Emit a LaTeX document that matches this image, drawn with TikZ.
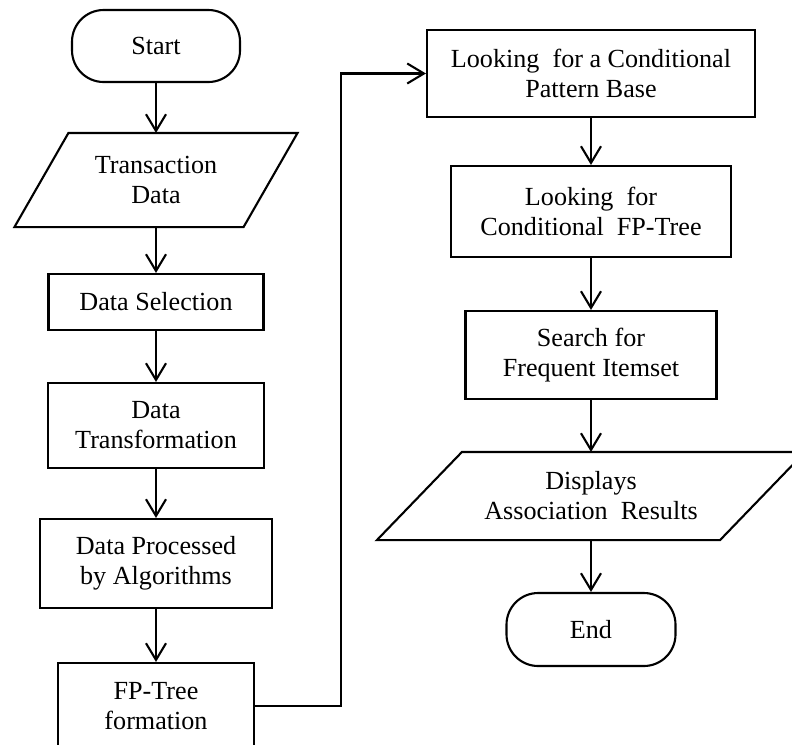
\documentclass[tikz,border=0pt]{standalone}
\usepackage{fontspec}
\setmainfont{Liberation Serif}
\usepackage{tikz}
\usetikzlibrary{shapes, arrows.meta}

\begin{document}
\begin{tikzpicture}[x=0.03cm, y=-0.03cm,
        every node/.style={font=\fontsize{22.3}{25.6}\selectfont, align=center, line width=1.8pt, inner sep=0pt},
        term/.style={rectangle, draw, rounded corners=0.95cm},
        proc/.style={rectangle, draw},
        io/.style={rectangle},
        arr/.style={line width=1.8pt, -{Straight Barb[length=0.5cm, width=0.6cm, line width=1.8pt]}}]
        \useasboundingbox (0, 0) rectangle (792, 744);
        \clip (0, 0) rectangle (792, 744);

        \node[term, minimum width=5.04cm, minimum height=2.16cm] (start) at (156, 46) {Start};
        \node[io, minimum width=6.81cm, minimum height=2.76cm] (data) at (156, 180) {Transaction\\Data};
        \node[proc, minimum width=6.45cm, minimum height=1.68cm] (sel) at (156, 302) {Data Selection};
        \node[proc, minimum width=6.48cm, minimum height=2.55cm] (trans) at (156, 425.5) {Data\\Transformation};
        \node[proc, minimum width=6.96cm, minimum height=2.67cm] (algo) at (156, 563.5) {Data Processed\\by Algorithms};
        \node[proc, minimum width=5.88cm, minimum height=2.58cm] (tree) at (156, 706) {FP-Tree\\formation};

        \node[proc, minimum width=9.84cm, minimum height=2.61cm] (base) at (591, 73.5) {Looking\ \ for a Conditional\\Pattern Base};
        \node[proc, minimum width=8.4cm, minimum height=2.73cm] (cond) at (591, 211.5) {Looking\ \ for\\Conditional\ \ FP-Tree};
        \node[proc, minimum width=7.53cm, minimum height=2.64cm] (freq) at (591, 355) {Search for\\Frequent Itemset};
        \node[io, minimum width=10.23cm, minimum height=2.58cm] (show) at (591, 496) {Displays\\Association\ \ Results};
        \node[term, minimum width=5.07cm, minimum height=2.19cm] (end) at (591, 629.5) {End};

        % slanted sides of the two data boxes
        \draw[line width=1.8pt] ([xshift=-0.81cm]data.south west) -- ([xshift=0.81cm]data.north west)
            -- ([xshift=0.81cm]data.north east) -- ([xshift=-0.81cm]data.south east) -- cycle;
        \draw[line width=1.8pt] ([xshift=-1.275cm]show.south west) -- ([xshift=1.275cm]show.north west)
            -- ([xshift=1.275cm]show.north east) -- ([xshift=-1.275cm]show.south east) -- cycle;

        \coordinate (bend) at (341, 73.5);

        \draw[arr] (start) -- (data);
        \draw[arr] (data) -- (sel);
        \draw[arr] (sel) -- (trans);
        \draw[arr] (trans) -- (algo);
        \draw[arr] (algo) -- (tree);
        \draw[arr] (tree.east) -| (bend) -- (base.west);
        \draw[arr] (base) -- (cond);
        \draw[arr] (cond) -- (freq);
        \draw[arr] (freq) -- (show);
        \draw[arr] (show) -- (end);
    \end{tikzpicture}
\end{document}
